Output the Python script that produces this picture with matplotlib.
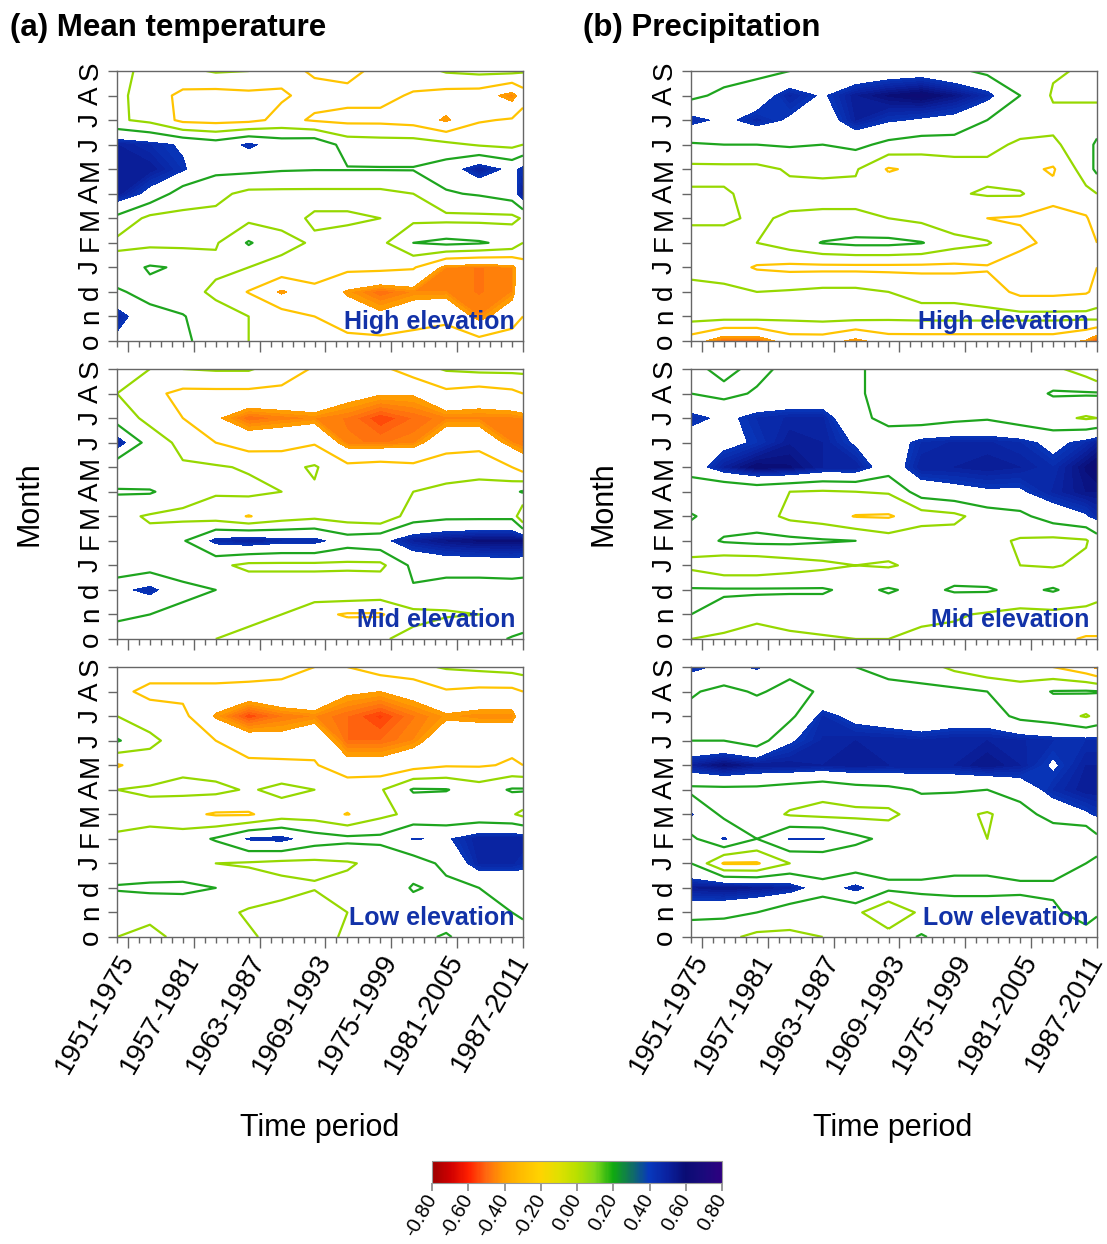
import numpy as np
import matplotlib.pyplot as plt
from matplotlib.colors import LinearSegmentedColormap, Normalize
from matplotlib.cm import ScalarMappable

plt.rcParams['font.family'] = ['Liberation Sans', 'DejaVu Sans']
plt.rcParams['axes.unicode_minus'] = False

# month axis runs from October of the previous year up to September
months = ['o', 'n', 'd', 'J', 'F', 'M', 'A', 'M', 'J', 'J', 'A', 'S']
# first year of each 25-year moving window (grid columns)
start_years = [1950, 1953, 1956, 1959, 1962, 1965, 1968, 1971, 1974, 1977, 1980, 1983, 1986, 1987]
label_years = [1951, 1957, 1963, 1969, 1975, 1981, 1987]
cbar_ticks = [-0.8, -0.6, -0.4, -0.2, 0.0, 0.2, 0.4, 0.6, 0.8]

# correlation grids, rows from S (top) down to o (bottom)
temp_high = [
    [0.05, -0.05, -0.05, 0.02, 0.0, -0.15, -0.22, -0.25, -0.15, -0.1, 0.02, 0.05, 0.05, 0.02],
    [0.05, -0.1, -0.25, -0.28, -0.25, -0.22, -0.15, -0.15, -0.15, -0.22, -0.28, -0.3, -0.47, -0.3],
    [0.03, -0.05, -0.25, -0.27, -0.25, -0.15, -0.22, -0.25, -0.25, -0.28, -0.43, -0.22, -0.18, -0.1],
    [0.5, 0.45, 0.38, 0.3, 0.43, 0.32, 0.35, 0.12, 0.1, 0.1, 0.05, -0.02, -0.05, 0.0],
    [0.52, 0.52, 0.42, 0.25, 0.25, 0.22, 0.21, 0.21, 0.21, 0.21, 0.3, 0.5, 0.35, 0.45],
    [0.52, 0.35, 0.1, 0.05, -0.05, -0.05, -0.05, -0.05, -0.05, 0.0, 0.18, 0.22, 0.3, 0.52],
    [0.15, -0.05, -0.05, -0.05, -0.05, -0.05, 0.02, 0.02, 0.0, -0.05, -0.05, -0.05, -0.05, 0.02],
    [-0.05, -0.05, -0.05, -0.02, 0.22, 0.05, -0.02, -0.05, -0.05, 0.2, 0.25, 0.22, 0.15, 0.0],
    [0.1, 0.22, 0.18, 0.05, 0.0, -0.05, -0.1, -0.15, -0.15, -0.18, -0.45, -0.48, -0.45, -0.3],
    [0.22, 0.15, 0.1, -0.05, -0.21, -0.43, -0.25, -0.42, -0.5, -0.45, -0.45, -0.48, -0.45, -0.25],
    [0.48, 0.25, 0.21, 0.1, 0.0, -0.1, -0.2, -0.3, -0.37, -0.3, -0.25, -0.45, -0.3, -0.2],
    [0.35, 0.25, 0.22, 0.15, 0.0, -0.1, -0.15, -0.15, -0.15, -0.12, -0.1, -0.15, -0.1, -0.05],
]
temp_mid = [
    [0.05, 0.0, 0.0, 0.02, 0.02, -0.1, -0.22, -0.25, -0.25, -0.1, 0.02, 0.05, 0.05, 0.05],
    [0.0, -0.15, -0.25, -0.25, -0.25, -0.25, -0.22, -0.35, -0.39, -0.39, -0.25, -0.3, -0.25, -0.2],
    [0.1, -0.05, -0.2, -0.38, -0.5, -0.47, -0.45, -0.48, -0.55, -0.5, -0.46, -0.46, -0.46, -0.45],
    [0.5, 0.1, -0.05, -0.2, -0.3, -0.28, -0.22, -0.47, -0.48, -0.46, -0.28, -0.28, -0.45, -0.48],
    [0.05, 0.0, 0.02, 0.02, -0.02, -0.05, 0.02, -0.15, -0.12, -0.15, -0.1, -0.05, -0.2, -0.3],
    [0.22, 0.22, 0.1, 0.02, 0.05, 0.0, -0.02, -0.05, -0.05, 0.0, 0.05, 0.05, 0.15, 0.22],
    [0.05, -0.02, -0.05, -0.1, -0.21, -0.1, -0.05, -0.1, -0.15, 0.1, 0.15, 0.15, 0.15, -0.2],
    [0.1, 0.05, 0.18, 0.45, 0.5, 0.45, 0.45, 0.3, 0.35, 0.5, 0.55, 0.58, 0.58, 0.58],
    [0.05, 0.1, 0.1, 0.05, -0.05, -0.05, -0.05, -0.05, -0.05, 0.25, 0.3, 0.3, 0.32, 0.3],
    [0.35, 0.45, 0.25, 0.2, 0.15, 0.15, 0.15, 0.18, 0.15, 0.18, 0.1, 0.1, 0.1, 0.1],
    [0.22, 0.2, 0.15, 0.1, 0.05, 0.0, -0.15, -0.22, -0.22, -0.05, -0.02, 0.0, 0.02, 0.05],
    [0.15, 0.1, 0.05, 0.0, -0.05, -0.05, -0.1, -0.05, -0.02, 0.05, 0.15, 0.1, 0.22, 0.25],
]
temp_low = [
    [-0.1, -0.1, -0.1, -0.1, -0.05, -0.15, -0.2, -0.2, -0.1, -0.05, 0.02, 0.05, 0.08, 0.1],
    [-0.15, -0.25, -0.25, -0.25, -0.3, -0.25, -0.22, -0.38, -0.4, -0.35, -0.22, -0.25, -0.25, -0.2],
    [0.0, -0.1, -0.15, -0.42, -0.55, -0.48, -0.45, -0.5, -0.56, -0.48, -0.42, -0.45, -0.45, -0.3],
    [0.22, 0.05, -0.1, -0.2, -0.32, -0.35, -0.28, -0.5, -0.5, -0.45, -0.3, -0.25, -0.25, -0.25],
    [-0.22, -0.1, -0.05, -0.1, -0.15, -0.15, -0.18, -0.35, -0.35, -0.28, -0.22, -0.22, -0.18, -0.2],
    [0.0, 0.02, 0.05, 0.05, -0.02, 0.05, 0.0, -0.05, -0.02, 0.22, 0.21, 0.1, 0.22, 0.22],
    [-0.05, -0.05, -0.15, -0.22, -0.22, -0.1, -0.1, -0.21, -0.05, 0.05, 0.05, 0.05, 0.02, -0.05],
    [0.02, 0.05, 0.1, 0.22, 0.42, 0.45, 0.3, 0.25, 0.25, 0.41, 0.38, 0.5, 0.5, 0.5],
    [0.05, 0.02, 0.05, 0.0, -0.02, -0.05, -0.05, -0.02, 0.05, 0.1, 0.25, 0.48, 0.48, 0.45],
    [0.22, 0.25, 0.25, 0.2, 0.1, 0.05, 0.02, 0.05, 0.05, 0.22, 0.15, 0.2, 0.22, 0.25],
    [0.05, 0.02, 0.05, 0.05, -0.02, -0.05, -0.2, 0.0, 0.05, 0.1, 0.1, 0.15, 0.2, 0.22],
    [0.0, -0.02, 0.02, 0.05, 0.02, -0.05, -0.05, 0.02, 0.05, 0.15, 0.22, 0.1, 0.15, 0.15],
]
prec_high = [
    [0.05, 0.1, 0.15, 0.2, 0.25, 0.25, 0.3, 0.32, 0.25, 0.15, 0.05, 0.02, -0.02, -0.02],
    [0.15, 0.25, 0.3, 0.48, 0.38, 0.52, 0.58, 0.62, 0.55, 0.45, 0.2, -0.02, -0.02, -0.02],
    [0.45, 0.36, 0.46, 0.38, 0.3, 0.5, 0.42, 0.38, 0.35, 0.2, 0.1, 0.05, 0.05, 0.05],
    [0.18, 0.2, 0.2, 0.22, 0.2, 0.25, 0.15, 0.1, 0.1, 0.05, -0.03, -0.03, 0.1, 0.25],
    [-0.05, -0.05, -0.05, 0.02, 0.03, 0.02, -0.22, -0.15, -0.1, -0.05, -0.15, -0.22, 0.1, 0.25],
    [0.02, 0.02, -0.05, -0.05, -0.05, -0.05, -0.05, -0.05, -0.02, 0.02, 0.02, -0.15, -0.05, 0.0],
    [0.02, 0.02, -0.02, 0.02, 0.03, 0.03, 0.0, -0.05, -0.15, -0.2, -0.22, -0.25, -0.22, -0.1],
    [-0.05, -0.05, 0.0, 0.1, 0.21, 0.25, 0.25, 0.21, 0.08, 0.02, -0.15, -0.25, -0.3, -0.2],
    [-0.05, -0.1, -0.22, -0.25, -0.25, -0.25, -0.25, -0.25, -0.25, -0.22, -0.3, -0.25, -0.3, -0.2],
    [0.05, 0.05, 0.0, 0.02, 0.05, 0.05, 0.0, -0.05, -0.05, -0.1, -0.25, -0.25, -0.22, -0.15],
    [0.08, 0.08, 0.08, 0.06, 0.08, 0.08, 0.05, 0.06, 0.06, 0.06, 0.06, 0.06, 0.06, 0.08],
    [-0.3, -0.52, -0.52, -0.3, -0.3, -0.45, -0.3, -0.3, -0.3, -0.3, -0.3, -0.3, -0.42, -0.55],
]
prec_mid = [
    [0.15, 0.25, 0.15, 0.25, 0.25, 0.22, 0.15, 0.2, 0.1, 0.1, 0.1, 0.05, -0.1, -0.22],
    [0.2, 0.15, 0.22, 0.25, 0.25, 0.22, 0.15, 0.1, 0.1, 0.18, 0.1, 0.22, 0.22, 0.22],
    [0.45, 0.36, 0.45, 0.48, 0.48, 0.25, 0.15, 0.1, 0.15, 0.18, 0.1, 0.05, -0.02, 0.0],
    [0.3, 0.35, 0.42, 0.52, 0.5, 0.38, 0.3, 0.45, 0.48, 0.48, 0.45, 0.35, 0.45, 0.5],
    [0.3, 0.5, 0.6, 0.58, 0.5, 0.5, 0.3, 0.5, 0.5, 0.52, 0.5, 0.45, 0.58, 0.62],
    [0.05, 0.0, 0.05, 0.0, -0.02, 0.0, 0.02, 0.3, 0.35, 0.38, 0.38, 0.48, 0.55, 0.55],
    [0.22, 0.1, 0.1, -0.05, -0.1, -0.21, -0.22, -0.1, -0.05, 0.1, 0.15, 0.3, 0.38, 0.45],
    [0.1, 0.22, 0.25, 0.25, 0.22, 0.2, 0.1, 0.15, 0.1, 0.05, -0.02, -0.05, -0.02, 0.1],
    [-0.05, -0.15, -0.15, -0.1, -0.05, 0.0, -0.02, 0.05, 0.1, 0.05, 0.0, -0.02, 0.05, 0.1],
    [0.22, 0.22, 0.22, 0.22, 0.22, 0.15, 0.22, 0.15, 0.22, 0.22, 0.15, 0.22, 0.1, 0.05],
    [0.2, 0.15, 0.12, 0.1, 0.1, 0.1, 0.08, 0.05, 0.02, -0.02, -0.05, -0.05, -0.05, -0.05],
    [0.0, -0.05, -0.2, -0.05, -0.02, 0.0, 0.0, -0.05, -0.05, -0.05, -0.1, -0.15, -0.22, -0.22],
]
prec_low = [
    [0.45, 0.35, 0.42, 0.25, 0.22, 0.2, 0.15, 0.1, -0.05, -0.15, -0.15, -0.2, -0.35, -0.45],
    [0.22, 0.15, 0.22, 0.15, 0.22, 0.22, 0.25, 0.25, 0.25, 0.2, 0.1, 0.21, 0.22, 0.21],
    [0.15, 0.1, 0.1, 0.15, 0.45, 0.35, 0.3, 0.25, 0.3, 0.3, 0.15, 0.1, -0.02, 0.05],
    [0.2, 0.2, 0.1, 0.38, 0.48, 0.5, 0.5, 0.48, 0.5, 0.5, 0.48, 0.45, 0.45, 0.45],
    [0.5, 0.58, 0.52, 0.52, 0.5, 0.52, 0.5, 0.5, 0.5, 0.55, 0.5, 0.38, 0.5, 0.5],
    [0.15, 0.15, 0.15, 0.1, 0.05, 0.12, 0.15, 0.22, 0.22, 0.2, 0.3, 0.45, 0.52, 0.52],
    [0.42, 0.15, 0.1, -0.02, -0.05, -0.05, -0.05, 0.1, 0.05, -0.02, 0.1, 0.3, 0.38, 0.42],
    [0.15, 0.42, 0.2, 0.41, 0.41, 0.25, 0.15, 0.1, 0.2, 0.0, 0.1, 0.02, 0.0, 0.15],
    [0.2, -0.22, -0.22, 0.0, 0.02, 0.05, 0.1, 0.1, 0.15, 0.15, 0.15, 0.15, 0.2, 0.22],
    [0.52, 0.55, 0.52, 0.48, 0.3, 0.45, 0.25, 0.25, 0.25, 0.25, 0.22, 0.22, 0.22, 0.25],
    [0.28, 0.25, 0.2, 0.05, 0.02, 0.05, -0.2, 0.05, 0.1, 0.1, 0.15, 0.18, 0.25, 0.22],
    [0.02, 0.05, -0.05, -0.02, 0.0, 0.05, 0.1, 0.22, 0.1, 0.15, 0.15, 0.1, 0.15, 0.1],
]

# colour scale from -0.8 (dark red) to 0.8 (indigo)
cmap = LinearSegmentedColormap.from_list('corr', [
    (0.0, '#9E0000'), (0.0625, '#D00000'), (0.125, '#FF2000'), (0.1875, '#FF6A10'),
    (0.25, '#FFA200'), (0.3125, '#FFBE00'), (0.375, '#FFD400'), (0.4375, '#E0E000'),
    (0.5, '#B8E000'), (0.5625, '#80D818'), (0.625, '#10AA10'), (0.6875, '#107060'),
    (0.75, '#0838BC'), (0.8125, '#0A22A0'), (0.875, '#0A0C74'), (0.9375, '#1A0A7C'),
    (1.0, '#2E0080')])
norm = Normalize(-0.8, 0.8)

line_levels = [-0.2, 0.0, 0.2]
line_colors = ['#FFC400', '#96D800', '#1EA51E']
frame_col = '#666666'

fig = plt.figure(figsize=(11.07, 12.44), dpi=100)
W, H = 1107, 1244


def panel_axes(x0, y0):
    return fig.add_axes([x0 / W, 1 - (y0 + 270) / H, 406 / W, 270 / H])


def draw_panel(ax, grid, label, bottom):
    z = np.flipud(np.array(grid))
    X, Y = np.meshgrid(start_years, np.arange(12))
    ax.contourf(X, Y, z, levels=np.linspace(0.4, 0.8, 17), cmap=cmap, norm=norm)
    ax.contourf(X, Y, z, levels=np.linspace(-0.8, -0.4, 17), cmap=cmap, norm=norm)
    ax.contour(X, Y, z, levels=line_levels, colors=line_colors, linewidths=1.6)

    ax.set_xlim(1950, 1987)
    ax.set_ylim(0, 11)
    ax.set_yticks(range(12))
    ax.set_yticklabels(months, rotation=90, va='center', fontsize=20)
    ax.set_xticks(label_years)
    ax.set_xticks(range(1950, 1988), minor=True)
    ax.tick_params(axis='y', length=6.5, width=1, color=frame_col, pad=3)
    ax.tick_params(axis='x', which='major', length=8, width=1, color=frame_col)
    ax.tick_params(axis='x', which='minor', length=4.5, width=1, color=frame_col)
    if bottom:
        ax.set_xticklabels([f'{y}-{y + 24}' for y in label_years], rotation=60,
                           ha='right', va='center', rotation_mode='anchor', fontsize=20)
        ax.tick_params(axis='x', which='major', pad=6)
    else:
        ax.tick_params(axis='x', labelbottom=False)
    for s in ax.spines.values():
        s.set_color(frame_col)
        s.set_linewidth(1)
    ax.text(0.98, 0.07, label, transform=ax.transAxes, ha='right', va='center',
            fontsize=18, fontweight='bold', color='#1232A8')


rows_y = [71, 369, 667]
names = ['High elevation', 'Mid elevation', 'Low elevation']
for i, (g, y0) in enumerate(zip([temp_high, temp_mid, temp_low], rows_y)):
    draw_panel(panel_axes(117, y0), g, names[i], i == 2)
for i, (g, y0) in enumerate(zip([prec_high, prec_mid, prec_low], rows_y)):
    draw_panel(panel_axes(691, y0), g, names[i], i == 2)

# panel titles and shared axis labels
fig.text(10 / W, 1 - 28 / H, '(a) Mean temperature', fontsize=22.5, fontweight='bold',
         ha='left', va='center')
fig.text(583 / W, 1 - 28 / H, '(b) Precipitation', fontsize=22.5, fontweight='bold',
         ha='left', va='center')
for xc in (30, 604):
    fig.text(xc / W, 1 - 504 / H, 'Month', rotation=90, fontsize=22, ha='center', va='center')
for xc in (320, 893):
    fig.text(xc / W, 1 - 1128 / H, 'Time period', fontsize=22, ha='center', va='center')

# colour bar
cax = fig.add_axes([432 / W, 1 - 1183 / H, 290 / W, 22 / H])
cb = fig.colorbar(ScalarMappable(norm=norm, cmap=cmap), cax=cax, orientation='horizontal',
                  ticks=cbar_ticks)
cb.outline.set_edgecolor('#999999')
cb.outline.set_linewidth(0.8)
cax.set_xticklabels([f'{t:.2f}' for t in cbar_ticks], rotation=60, ha='right', va='center',
                    rotation_mode='anchor', fontsize=14.5)
cax.tick_params(axis='x', length=6, width=1.2, color='#888888', pad=3)

fig.savefig('out.png', dpi=100)
